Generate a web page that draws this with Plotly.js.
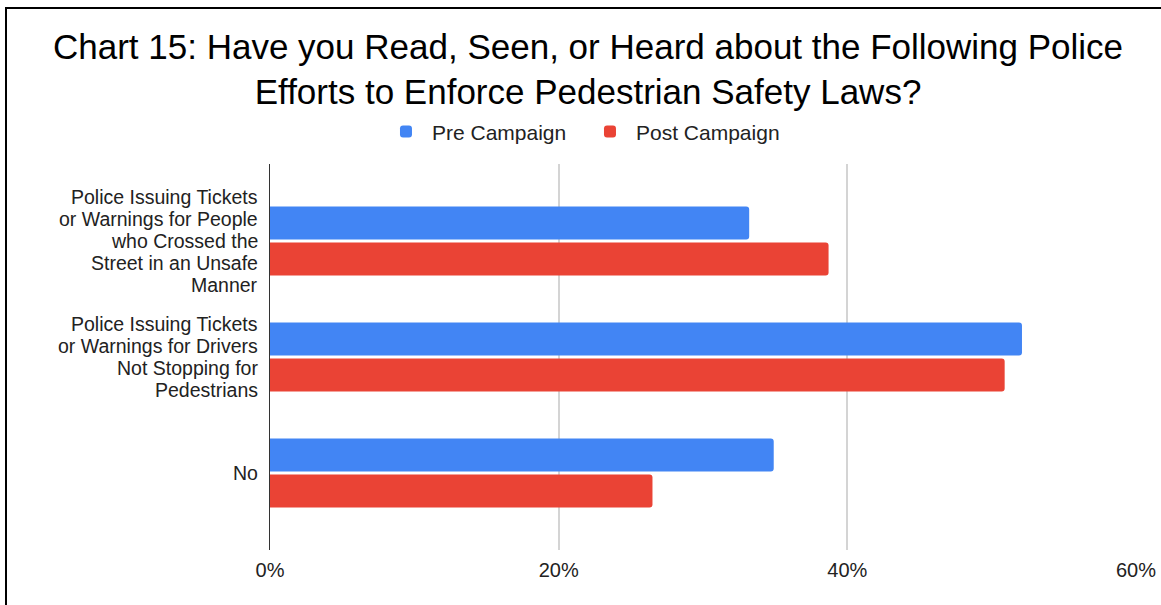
<!DOCTYPE html>
<html>
<head>
<meta charset="utf-8">
<script src="https://cdn.plot.ly/plotly-3.0.1.min.js"></script>
<style>
  html, body { margin: 0; padding: 0; background: #fff; overflow: hidden; }
  #chart { width: 1161px; height: 605px; }
  #frame { position: absolute; left: 5px; top: 7px; width: 1200px; height: 700px;
           border-top: 2.5px solid #000; border-left: 2.5px solid #000; pointer-events: none; }
</style>
</head>
<body>
<div id="chart"></div>
<div id="frame"></div>
<script>
// ---- data ----
const categories = [
  "Police Issuing Tickets<br>or Warnings for People<br>who Crossed the<br>Street in an Unsafe<br>Manner",
  "Police Issuing Tickets<br>or Warnings for Drivers<br>Not Stopping for<br>Pedestrians",
  "No"
];
const preCampaign = [33.2, 52.1, 34.9];
const postCampaign = [38.7, 50.9, 26.5];
const seriesNames = ["Pre Campaign", "Post Campaign"];
const xTickVals = [0, 20, 40, 60];
const xTickText = ["0%", "20%", "40%", "60%"];
const titleText = "Chart 15: Have you Read, Seen, or Heard about the Following Police<br>Efforts to Enforce Pedestrian Safety Laws?";

const FONT = "Liberation Sans, Arial, sans-serif";

const traces = [
  { type: "bar", orientation: "h", name: seriesNames[0], y: categories.map((c, i) => i), x: preCampaign,
    marker: { color: "#4285F4", cornerradius: 3 }, hoverinfo: "none" },
  { type: "bar", orientation: "h", name: seriesNames[1], y: categories.map((c, i) => i), x: postCampaign,
    marker: { color: "#EA4335", cornerradius: 3 }, hoverinfo: "none" }
];

// category labels drawn line by line for tight line spacing
const annotations = [];
const lineStep = 22;
categories.forEach((c, ci) => {
  const lines = c.split("<br>");
  const n = lines.length;
  lines.forEach((ln, li) => {
    annotations.push({
      text: ln, xref: "paper", x: 0, xanchor: "right", xshift: -11,
      yref: "y", y: ci, yanchor: "middle", yshift: ((n - 1) / 2 - li) * lineStep,
      showarrow: false, borderpad: 0, font: { family: FONT, size: 19.5, color: "#222" }, align: "right"
    });
  });
});

const layout = {
  width: 1161, height: 605,
  margin: { l: 270, r: 25, t: 164, b: 55 },
  paper_bgcolor: "#fff", plot_bgcolor: "#fff",
  font: { family: FONT, color: "#222" },
  title: { text: titleText, font: { family: FONT, size: 35, color: "#000" },
           x: 0.5065, xref: "container", xanchor: "center",
           y: 1 - 58.5 / 605, yref: "container", yanchor: "middle" },
  barmode: "group", bargap: 0.38, bargroupgap: 0.08,
  showlegend: true,
  legend: { orientation: "h", x: 0.127, xanchor: "left", y: 1.083, yanchor: "middle",
            font: { family: FONT, size: 21, color: "#222" }, itemwidth: 42,
            entrywidth: 147, entrywidthmode: "pixels", traceorder: "normal" },
  xaxis: { range: [0, 60], tickvals: xTickVals, ticktext: xTickText, showgrid: true,
           gridcolor: "#d4d4d4", gridwidth: 2, zeroline: false, showline: false, ticks: "",
           ticklabelstandoff: 6,
           tickfont: { family: FONT, size: 20, color: "#222" }, fixedrange: true },
  yaxis: { range: [categories.length - 1 + 0.664, -0.664], showticklabels: false, showgrid: false,
           zeroline: false, showline: true, linecolor: "#333", linewidth: 1.5, ticks: "", fixedrange: true },
  annotations: annotations
};

Plotly.newPlot("chart", traces, layout, { displayModeBar: false, staticPlot: true });
</script>
</body>
</html>
